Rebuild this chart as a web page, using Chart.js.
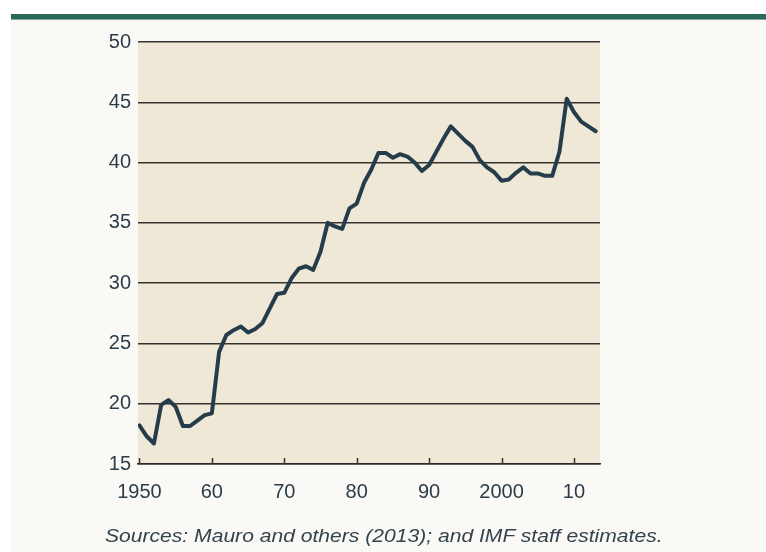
<!DOCTYPE html>
<html>
<head>
    <title>Chart</title>
    <script src="https://cdn.jsdelivr.net/npm/chart.js@4/dist/chart.umd.min.js"></script>
    <style>
        html, body { margin: 0; padding: 0; background: #ffffff; }
        #panel {
            position: absolute; left: 11px; top: 14px; width: 755px; height: 538px;
            background: #faf9f5; border-top: 5px solid #2b6a59;
            box-shadow: inset 0 1px 0 #7fa698;
        }
        #wrap { position: absolute; left: 0; top: 0; width: 766px; height: 552px; }
        #source {
            position: absolute; left: 105px; top: 525px; margin: 0;
            font-family: "Liberation Sans", Arial, sans-serif; font-style: italic;
            font-size: 19px; color: #34444f;
            transform: scaleX(1.11); transform-origin: left center;
        }
    </style>
</head>

<body>
    <div id="panel"></div>
    <div id="wrap"><canvas id="lineChart" width="766" height="552"></canvas></div>
    <p id="source">Sources: Mauro and others (2013); and IMF staff estimates.</p>

    <script>
        var years = [];
        for (let y = 1950; y <= 2013; y++) years.push(y);

        var values = [18.2, 17.3, 16.7, 19.9, 20.3, 19.75, 18.15, 18.15, 18.6, 19.05,
                      19.2, 24.3, 25.7, 26.1, 26.4, 25.9, 26.2, 26.7, 27.9, 29.1,
                      29.2, 30.4, 31.2, 31.4, 31.1, 32.6, 35.0, 34.7, 34.5, 36.2,
                      36.6, 38.3, 39.4, 40.8, 40.8, 40.4, 40.7, 40.5, 40.0, 39.3,
                      39.8, 40.9, 42.0, 43.0, 42.4, 41.8, 41.3, 40.2, 39.6, 39.2,
                      38.5, 38.6, 39.15, 39.6, 39.1, 39.1, 38.9, 38.9, 40.9, 45.3,
                      44.2, 43.4, 43.0, 42.6];

        var xTicks = [1950, 1960, 1970, 1980, 1990, 2000, 2010];
        var xTickLabels = ['1950', '60', '70', '80', '90', '2000', '10'];

        var points = years.map(function(y, i) { return {x: y, y: values[i]}; });

        // plot background and inward ticks on the x axis
        var plotDecor = {
            id: 'plotDecor',
            beforeDraw: function(chart) {
                const ctx = chart.ctx, a = chart.chartArea;
                ctx.save();
                ctx.fillStyle = '#f0e8d6';
                ctx.fillRect(a.left, a.top, a.right - a.left, a.bottom - a.top);
                ctx.restore();
            },
            afterDraw: function(chart) {
                const ctx = chart.ctx, a = chart.chartArea, xs = chart.scales.x;
                ctx.save();
                ctx.strokeStyle = '#333333';
                ctx.lineWidth = 1.5;
                xTicks.forEach(function(t) {
                    const px = Math.round(xs.getPixelForValue(t)) + 0.5;
                    ctx.beginPath();
                    ctx.moveTo(px, a.bottom);
                    ctx.lineTo(px, a.bottom - 6);
                    ctx.stroke();
                });
                ctx.restore();
            }
        };

        new Chart("lineChart", {
            type: "line",
            data: {
                datasets: [{
                    data: points,
                    borderColor: "#253d4b",
                    borderWidth: 4,
                    pointRadius: 0,
                    tension: 0,
                    borderJoinStyle: "round",
                    borderCapStyle: "round"
                }]
            },
            options: {
                responsive: false,
                animation: false,
                layout: {padding: {left: 0, right: 166, top: 42, bottom: 48}},
                plugins: {legend: {display: false}, tooltip: {enabled: false}},
                scales: {
                    x: {
                        type: "linear",
                        min: 1949.8,
                        max: 2013.6,
                        afterBuildTicks: function(scale) {
                            scale.ticks = xTicks.map(function(v) { return {value: v}; });
                        },
                        afterFit: function(scale) { scale.height = 40; },
                        grid: {display: false, drawTicks: false},
                        border: {display: true, color: "#2a2a2a", width: 1.5},
                        ticks: {
                            padding: 16,
                            color: "#2b3d4a",
                            font: {family: "'Liberation Sans', Arial, sans-serif", size: 20},
                            maxRotation: 0,
                            autoSkip: false,
                            callback: function(v) { return xTickLabels[xTicks.indexOf(v)]; }
                        }
                    },
                    y: {
                        min: 15,
                        max: 50,
                        afterFit: function(scale) { scale.width = 138; },
                        grid: {color: "#35332f", lineWidth: 1.4, drawTicks: false},
                        border: {display: false},
                        ticks: {
                            stepSize: 5,
                            padding: 7,
                            color: "#2b3d4a",
                            font: {family: "'Liberation Sans', Arial, sans-serif", size: 20}
                        }
                    }
                }
            },
            plugins: [plotDecor]
        });
    </script>
</body>
</html>
